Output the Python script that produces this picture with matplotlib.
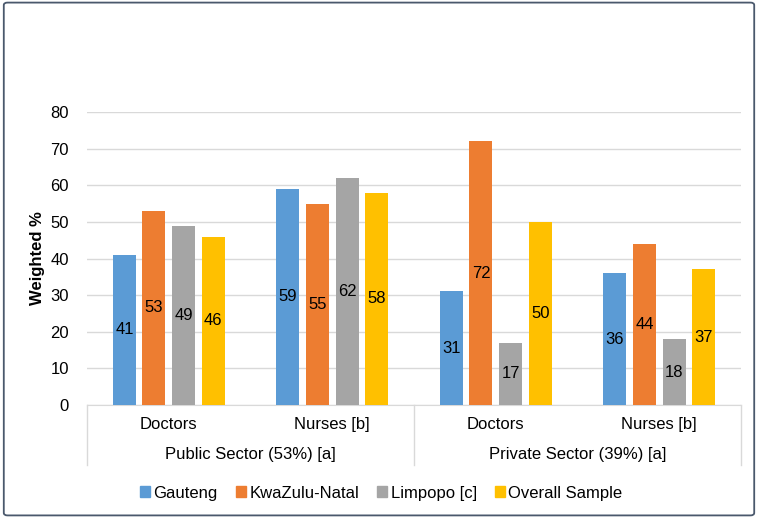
import matplotlib
matplotlib.use("Agg")
import matplotlib.pyplot as plt
from matplotlib.patches import FancyBboxPatch, Patch
import numpy as np

# data
roles = ["Doctors", "Nurses [b]", "Doctors", "Nurses [b]"]
sectors = ["Public Sector (53%) [a]", "Private Sector (39%) [a]"]
series = ["Gauteng", "KwaZulu-Natal", "Limpopo [c]", "Overall Sample"]
gauteng = [41, 59, 31, 36]
kzn = [53, 55, 72, 44]
limpopo = [49, 62, 17, 18]
overall = [46, 58, 50, 37]
colors = ["#5B9BD5", "#ED7D31", "#A5A5A5", "#FFC000"]

plt.rcParams['font.family'] = ['Liberation Sans', 'DejaVu Sans']
fs = 12

fig = plt.figure(figsize=(7.58, 5.18), dpi=100)
ax = fig.add_axes([0.1148, 0.2181, 0.8628, 0.5657])

x = np.arange(len(roles))
step = 0.181
width = 0.141
for i, (name, vals) in enumerate(zip(series, [gauteng, kzn, limpopo, overall])):
    pos = x + (i - 1.5) * step
    bars = ax.bar(pos, vals, width, color=colors[i], label=name, zorder=3)
    for b, v in zip(bars, vals):
        ax.text(b.get_x() + b.get_width() / 2, v / 2, str(v),
                ha="center", va="center", fontsize=fs, color="black", zorder=4)

ax.set_xlim(-0.5, 3.5)
ax.set_ylim(0, 80)
ax.set_yticks(range(0, 81, 10))
ax.tick_params(axis="y", length=0, pad=13, labelsize=fs)
ax.set_xticks([])
ax.grid(axis="y", color="#D9D9D9", linewidth=1, zorder=0)
for s in ["top", "right", "left"]:
    ax.spines[s].set_visible(False)
ax.spines["bottom"].set_color("#D9D9D9")
ax.set_ylabel("Weighted %", fontsize=fs, fontweight="bold", labelpad=4)

# two-level category axis
trans = ax.get_xaxis_transform()
for xs in [-0.5, 1.5, 3.5]:
    ax.plot([xs, xs], [0, -0.205], transform=trans, color="#D9D9D9",
            linewidth=1, clip_on=False)
for xi, r in zip(x, roles):
    ax.text(xi, -0.068, r, transform=trans, ha="center", va="center", fontsize=fs)
for k, s in enumerate(sectors):
    ax.text(0.5 + 2 * k, -0.17, s, transform=trans, ha="center", va="center", fontsize=fs)

handles = [Patch(color=c, label=n) for c, n in zip(colors, series)]
fig.legend(handles=handles, loc="center", bbox_to_anchor=(0.503, 0.048), ncol=4,
           frameon=False, fontsize=fs, handlelength=0.6, handleheight=0.6,
           handletextpad=0.2, columnspacing=1.1)

border = FancyBboxPatch((0.005, 0.005), 0.99, 0.99, boxstyle="round,pad=0,rounding_size=0.005",
                        transform=fig.transFigure, fill=False, edgecolor="#4A586C",
                        linewidth=1.3)
fig.patches.append(border)

fig.savefig("out.png", dpi=100)
